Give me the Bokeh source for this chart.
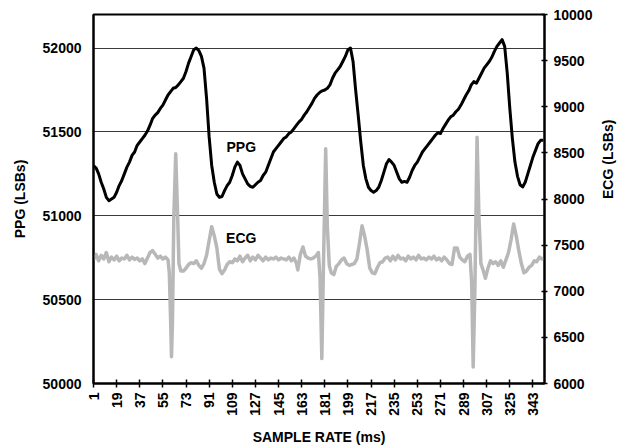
import math
from bokeh.plotting import figure
from bokeh.models import Range1d, LinearAxis, FixedTicker, Label
from bokeh.embed import file_html
from bokeh.resources import INLINE

# ---------------- data ----------------
ppg_x = [1, 3, 5, 7, 9, 11, 13, 15, 17, 19, 21, 23, 25, 27, 29, 31, 33, 35, 37, 39,
         41, 43, 45, 47, 49, 51, 53, 55, 57, 59, 61, 63, 65, 67, 69, 71, 73, 75, 77, 79,
         81, 83, 85, 87, 89, 91, 93, 95, 97, 99, 101, 103, 105, 107, 109, 111, 113, 115, 117, 119,
         121, 123, 125, 127, 129, 131, 133, 135, 137, 139, 141, 143, 145, 147, 149, 151, 153, 155, 157, 159,
         161, 163, 165, 167, 169, 171, 173, 175, 177, 179, 181, 183, 185, 187, 189, 191, 193, 195, 197, 199,
         201, 203, 205, 207, 209, 211, 213, 215, 217, 219, 221, 223, 225, 227, 229, 231, 233, 235, 237, 239,
         241, 243, 245, 247, 249, 251, 253, 255, 257, 259, 261, 263, 265, 267, 269, 271, 273, 275, 277, 279,
         281, 283, 285, 287, 289, 291, 293, 295, 297, 299, 301, 303, 305, 307, 309, 311, 313, 315, 317, 319,
         321, 323, 325, 327, 329, 331, 333, 335, 337, 339, 341, 343, 345, 347, 349, 351]
ppg_y = [51300, 51285, 51250, 51200, 51160, 51110, 51090, 51100, 51110, 51140, 51180, 51210, 51250, 51290, 51320, 51360, 51380, 51420, 51440, 51460,
         51480, 51505, 51540, 51580, 51600, 51615, 51640, 51660, 51690, 51720, 51740, 51760, 51765, 51780, 51800, 51820, 51860, 51910, 51950, 51990,
         52000, 51985, 51950, 51880, 51700, 51470, 51300, 51200, 51130, 51110, 51115, 51150, 51180, 51200, 51240, 51290, 51320, 51300, 51250, 51220,
         51190, 51175, 51170, 51185, 51200, 51210, 51240, 51260, 51300, 51340, 51380, 51400, 51420, 51440, 51460, 51470, 51490, 51500, 51520, 51540,
         51560, 51575, 51600, 51620, 51645, 51670, 51700, 51720, 51735, 51745, 51750, 51760, 51780, 51820, 51850, 51870, 51890, 51920, 51950, 51990,
         52000, 51920, 51750, 51600, 51440, 51300, 51220, 51170, 51150, 51140, 51150, 51170, 51210, 51260, 51310, 51335, 51320, 51300, 51260, 51220,
         51200, 51205, 51200, 51230, 51270, 51300, 51320, 51350, 51380, 51400, 51420, 51440, 51460, 51480, 51495, 51490, 51520, 51545, 51570, 51590,
         51600, 51620, 51635, 51660, 51690, 51720, 51745, 51780, 51800, 51790, 51820, 51850, 51880, 51900, 51920, 51945, 51980, 52010, 52030, 52050,
         52010, 51850, 51640, 51460, 51320, 51235, 51185, 51172, 51200, 51250, 51300, 51350, 51390, 51430, 51450, 51450]

ecg_x = [1, 3, 5, 7, 9, 11, 13, 15, 17, 19, 21, 23, 25, 27, 29, 31, 33, 35, 37, 39,
         41, 43, 45, 47, 49, 51, 53, 55, 57, 59, 60, 61, 61.7, 62.5, 63.5, 65, 66.3, 67.5, 69, 71,
         73, 75, 77, 79, 81, 83, 85, 87, 89, 91, 93, 95, 97, 99, 101, 103, 105, 107, 109, 111,
         113, 115, 117, 119, 121, 123, 125, 127, 129, 131, 133, 135, 137, 139, 141, 143, 145, 147, 149, 151,
         153, 155, 157, 159, 160, 162, 164, 166, 168, 170, 172, 174, 176, 177.3, 178.7, 180, 181.7, 183, 184.5, 186,
         188, 190, 192, 194, 196, 198, 200, 202, 204, 206, 208, 210, 212, 214, 216, 218, 220, 222, 224, 226,
         228, 230, 232, 234, 236, 238, 240, 242, 244, 246, 248, 250, 252, 254, 256, 258, 260, 262, 264, 266,
         268, 270, 272, 274, 276, 278, 280, 282, 284, 286, 288, 290, 292, 294, 295.3, 296.5, 297.8, 299.5, 301, 302.5,
         304, 306, 308, 310, 312, 314, 316, 318, 320, 322, 324, 326, 328, 330, 332, 334, 336, 338, 340, 342,
         344, 346, 348, 350, 351]
ecg_y = [7340, 7400, 7330, 7390, 7350, 7420, 7320, 7370, 7340, 7380, 7330, 7360, 7350, 7390, 7340, 7370, 7345, 7360, 7330, 7350,
         7300, 7360, 7420, 7440, 7400, 7360, 7380, 7350, 7370, 7340, 7200, 6700, 6290, 6700, 7800, 8490, 7900, 7300, 7220, 7220,
         7250, 7290, 7310, 7300, 7330, 7280, 7250, 7300, 7390, 7550, 7700, 7600, 7470, 7240, 7190, 7230, 7290, 7320, 7310, 7350,
         7330, 7380, 7320, 7360, 7390, 7330, 7370, 7340, 7390, 7360, 7330, 7370, 7340, 7360, 7350, 7370, 7340, 7360, 7350, 7340,
         7370, 7330, 7360, 7300, 7230, 7400, 7480, 7380, 7360, 7350, 7360, 7380, 7420, 7150, 6270, 7300, 8545, 7700, 7280, 7200,
         7180, 7270, 7300, 7340, 7360, 7300, 7280, 7290, 7300, 7350, 7520, 7710, 7600, 7450, 7250, 7200, 7190, 7260, 7310, 7320,
         7360, 7370, 7330, 7380, 7340, 7390, 7350, 7360, 7330, 7380, 7350, 7370, 7340, 7390, 7350, 7360, 7340, 7370, 7350, 7380,
         7340, 7360, 7330, 7370, 7340, 7300, 7290, 7470, 7470, 7370, 7340, 7320, 7380, 7400, 7100, 6180, 7000, 8670, 7800, 7300,
         7240, 7140, 7250, 7330, 7300, 7320, 7280, 7330, 7260, 7340, 7420, 7560, 7730, 7600, 7440, 7300, 7200, 7220, 7260, 7280,
         7330, 7320, 7370, 7350, 7360]

x_ticks = list(range(1, 344, 18))
ppg_ticks = [50000, 50500, 51000, 51500, 52000]
ecg_ticks = [6000, 6500, 7000, 7500, 8000, 8500, 9000, 9500, 10000]

FONT = "Liberation Sans"

p = figure(frame_width=451, frame_height=369,
           x_range=Range1d(1, 352), y_range=Range1d(50000, 52200),
           output_backend="svg", toolbar_location=None,
           min_border_left=93, min_border_top=14, min_border_right=78, min_border_bottom=60,
           background_fill_color="white", border_fill_color="white")
p.outline_line_color = "black"
p.outline_line_width = 2

# left axis
ly = p.yaxis[0]
ly.ticker = FixedTicker(ticks=ppg_ticks)
ly.axis_label = "PPG (LSBs)"

# bottom axis
p.xaxis.ticker = FixedTicker(ticks=x_ticks)
p.xaxis.axis_label = "SAMPLE RATE (ms)"
p.xaxis.major_label_orientation = math.pi / 2

# right axis
p.extra_y_ranges = {"ecg": Range1d(6000, 10000)}
ry = LinearAxis(y_range_name="ecg", ticker=FixedTicker(ticks=ecg_ticks), axis_label="ECG (LSBs)")
try:
    ry.axis_label_orientation = math.pi / 2
except Exception:
    pass
p.add_layout(ry, "right")

for ax in [ly, p.xaxis[0], ry]:
    ax.axis_line_color = "black"
    ax.axis_line_width = 2
    ax.major_tick_line_color = "black"
    ax.major_tick_line_width = 1.5
    ax.minor_tick_line_color = None
    ax.major_label_text_font = FONT
    ax.major_label_text_font_style = "bold"
    ax.major_label_text_font_size = "14px"
    ax.major_label_text_color = "black"
    ax.axis_label_text_font = FONT
    ax.axis_label_text_font_style = "bold"
    ax.axis_label_text_font_size = "14px"
    ax.axis_label_text_color = "black"

ly.major_tick_in = 0
ly.major_tick_out = 0
ly.major_label_standoff = 12
ly.axis_label_standoff = 12

p.xaxis.major_tick_in = 4
p.xaxis.major_tick_out = 4
p.xaxis.major_label_standoff = 5
p.xaxis.axis_label_standoff = 10

ry.major_tick_in = 3
ry.major_tick_out = 3
ry.major_label_standoff = 6
ry.axis_label_standoff = 13

p.xgrid.visible = False
p.ygrid.grid_line_color = "#3a3a3a"
p.ygrid.grid_line_width = 1.2

# series
p.line(ecg_x, ecg_y, y_range_name="ecg", line_color="#b8b8b8", line_width=3.5, line_join="round")
p.line(ppg_x, ppg_y, line_color="black", line_width=3, line_join="round")

# in-plot labels
for txt, yy in [("PPG", 51410), ("ECG", 50869)]:
    p.add_layout(Label(x=116, y=yy, text=txt, text_font=FONT, text_font_style="bold",
                       text_font_size="14px", text_align="center", text_baseline="middle",
                       text_color="black"))

open("out.html", "w").write(file_html(p, INLINE))
